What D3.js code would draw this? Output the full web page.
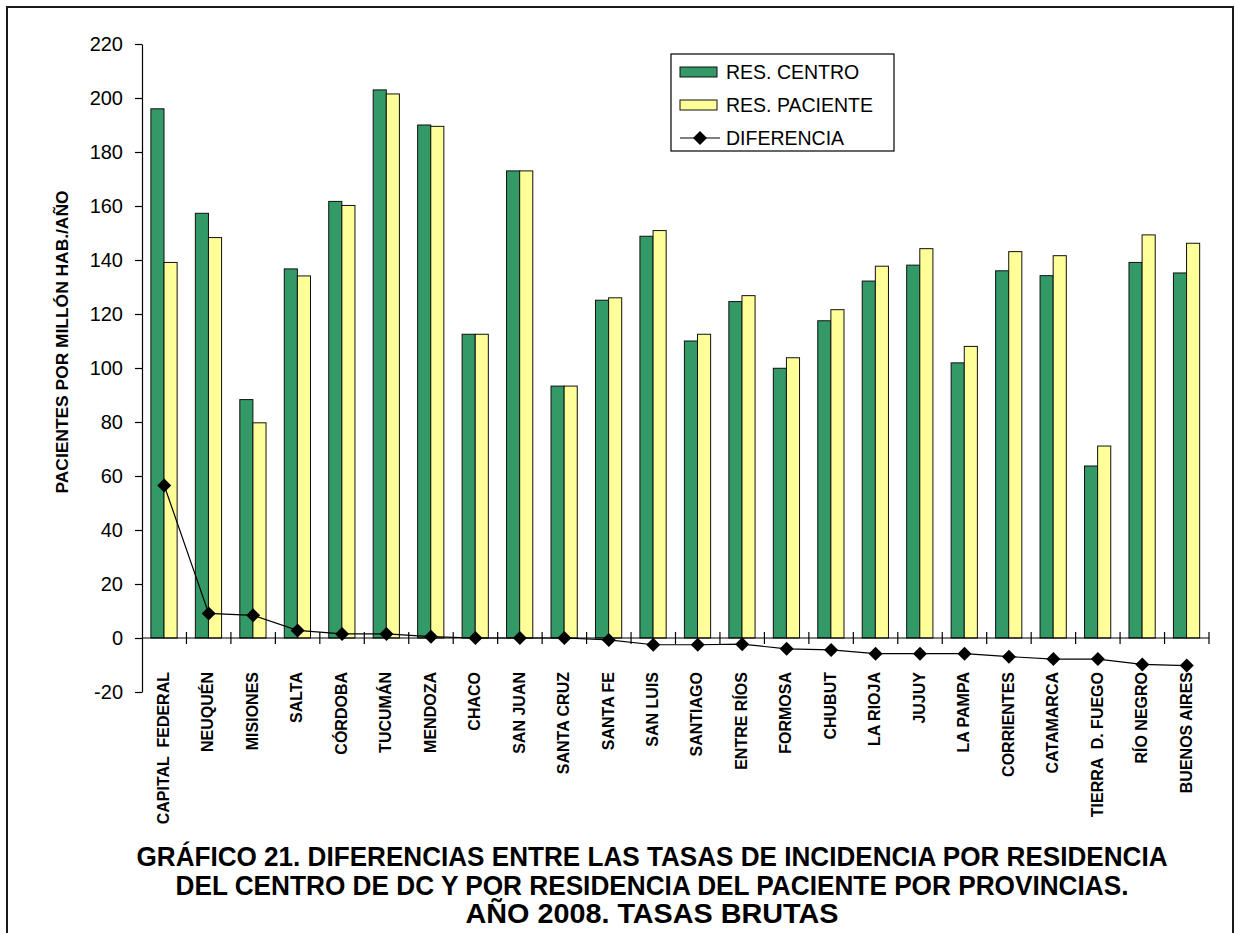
<!DOCTYPE html>
<html>
<head>
<meta charset="utf-8">
<script src="https://cdn.jsdelivr.net/npm/d3@7"></script>
<style>
  html, body { margin: 0; padding: 0; background: #fff; }
  svg { display: block; }
  text { font-family: Arial, "Liberation Sans", sans-serif; }
</style>
</head>
<body>
<svg id="chart" width="1235" height="933"></svg>
<script>
const categories = ["CAPITAL  FEDERAL","NEUQUÉN","MISIONES","SALTA","CÓRDOBA","TUCUMÁN","MENDOZA","CHACO","SAN JUAN","SANTA CRUZ","SANTA FE","SAN LUIS","SANTIAGO","ENTRE RÍOS","FORMOSA","CHUBUT","LA RIOJA","JUJUY","LA PAMPA","CORRIENTES","CATAMARCA","TIERRA  D. FUEGO","RÍO NEGRO","BUENOS AIRES"];
const resCentro = [196, 157.3, 88.3, 136.7, 161.7, 203, 190, 112.5, 173, 93.3, 125.1, 148.8, 110, 124.6, 99.9, 117.5, 132.2, 138.1, 101.9, 136, 134.2, 63.7, 139.1, 135.2];
const resPaciente = [139.1, 148.3, 79.7, 134.1, 160.2, 201.5, 189.5, 112.5, 173, 93.3, 126, 150.9, 112.5, 126.8, 103.8, 121.6, 137.7, 144.2, 108, 143.1, 141.6, 71.1, 149.3, 146.2];
const diferencia = [56.5, 9.1, 8.4, 2.8, 1.5, 1.5, 0.5, 0, 0, 0, -0.7, -2.5, -2.5, -2.3, -4, -4.4, -5.8, -5.8, -5.8, -6.9, -7.8, -7.8, -9.8, -10.2];
const yTicks = [-20, 0, 20, 40, 60, 80, 100, 120, 140, 160, 180, 200, 220];
const seriesNames = ["RES. CENTRO", "RES. PACIENTE", "DIFERENCIA"];
const yTitle = "PACIENTES POR MILLÓN HAB./AÑO";
const titleLines = ["GRÁFICO 21. DIFERENCIAS ENTRE LAS TASAS DE INCIDENCIA POR RESIDENCIA",
                    "DEL CENTRO DE DC Y POR RESIDENCIA DEL PACIENTE POR PROVINCIAS.",
                    "AÑO 2008. TASAS BRUTAS"];

const GREEN = "#339966", YELLOW = "#FFFF99";
const svg = d3.select("#chart");

// outer border
svg.append("rect").attr("x", 7).attr("y", 7).attr("width", 1226).attr("height", 940)
  .attr("fill", "none").attr("stroke", "#1a1a1a").attr("stroke-width", 2);

const x = d3.scaleBand().domain(categories).range([142, 1209]).paddingInner(0).paddingOuter(0);
const bw = x.bandwidth();
const x1 = d3.scaleBand().domain(["c", "p"]).range([bw * 0.2, bw * 0.79]);
const y = d3.scaleLinear().domain([-20, 220]).range([692, 44]);

const data = categories.map((c, i) => ({c, centro: resCentro[i], paciente: resPaciente[i], dif: diferencia[i]}));

// bars
const g = svg.append("g");
g.selectAll("rect.c").data(data).join("rect").attr("class", "c")
  .attr("x", d => x(d.c) + x1("c")).attr("width", x1.bandwidth())
  .attr("y", d => y(d.centro)).attr("height", d => y(0) - y(d.centro))
  .attr("fill", GREEN).attr("stroke", "#111").attr("stroke-width", 1);
g.selectAll("rect.p").data(data).join("rect").attr("class", "p")
  .attr("x", d => x(d.c) + x1("p")).attr("width", x1.bandwidth())
  .attr("y", d => y(d.paciente)).attr("height", d => y(0) - y(d.paciente))
  .attr("fill", YELLOW).attr("stroke", "#111").attr("stroke-width", 1);

// y axis
const yAxis = d3.axisLeft(y).tickValues(yTicks).tickSize(7).tickSizeOuter(0).tickPadding(12)
  .tickFormat(d => String(d));
const ya = svg.append("g").attr("transform", "translate(142,0)").call(yAxis);
ya.select(".domain").attr("stroke", "#000").attr("stroke-width", 1.2);
ya.selectAll(".tick line").attr("stroke", "#000").attr("stroke-width", 1.2);
ya.selectAll(".tick text").attr("font-size", 20).attr("fill", "#000")
  .attr("font-family", "Arial, 'Liberation Sans', sans-serif");

// x axis at zero, ticks crossing
const xa = svg.append("g");
xa.append("line").attr("x1", 142).attr("x2", 1209).attr("y1", y(0)).attr("y2", y(0))
  .attr("stroke", "#000").attr("stroke-width", 1.2);
const tickPos = categories.map(c => x(c) + bw);
xa.selectAll("line.t").data(tickPos).join("line").attr("class", "t")
  .attr("x1", d => d).attr("x2", d => d).attr("y1", y(0) - 6).attr("y2", y(0) + 6)
  .attr("stroke", "#000").attr("stroke-width", 1.2);

// x labels
svg.append("g").selectAll("text").data(categories).join("text")
  .attr("transform", d => `translate(${x(d) + bw / 2 - 1},672) rotate(-90)`)
  .attr("text-anchor", "end").attr("dy", "0.36em")
  .attr("font-size", 16).attr("font-weight", "bold").attr("fill", "#000")
  .style("white-space", "pre")
  .text(d => d);

// difference line
const line = d3.line().x(d => x(d.c) + bw / 2).y(d => y(d.dif));
svg.append("path").datum(data).attr("d", line).attr("fill", "none")
  .attr("stroke", "#000").attr("stroke-width", 1.2);
const diamond = "M0,-7L7,0L0,7L-7,0Z";
svg.append("g").selectAll("path").data(data).join("path")
  .attr("transform", d => `translate(${x(d.c) + bw / 2},${y(d.dif)})`)
  .attr("d", diamond).attr("fill", "#000");

// y title
svg.append("text").attr("transform", "translate(62,342) rotate(-90)")
  .attr("text-anchor", "middle").attr("dy", "0.35em")
  .attr("font-size", 16).attr("font-weight", "bold").attr("fill", "#000")
  .attr("textLength", 303).attr("lengthAdjust", "spacingAndGlyphs")
  .text(yTitle);

// legend
const lg = svg.append("g");
lg.append("rect").attr("x", 671).attr("y", 54).attr("width", 223).attr("height", 97)
  .attr("fill", "#fff").attr("stroke", "#000").attr("stroke-width", 1.2);
const rows = [72, 105, 138];
lg.append("rect").attr("x", 680).attr("y", rows[0] - 5).attr("width", 37).attr("height", 10)
  .attr("fill", GREEN).attr("stroke", "#111");
lg.append("rect").attr("x", 680).attr("y", rows[1] - 5).attr("width", 37).attr("height", 10)
  .attr("fill", YELLOW).attr("stroke", "#111");
lg.append("line").attr("x1", 680).attr("x2", 720).attr("y1", rows[2]).attr("y2", rows[2])
  .attr("stroke", "#000").attr("stroke-width", 1.2);
lg.append("path").attr("transform", `translate(700,${rows[2]})`).attr("d", diamond).attr("fill", "#000");
lg.selectAll("text").data(seriesNames).join("text")
  .attr("x", 726).attr("y", (d, i) => rows[i]).attr("dy", "0.36em")
  .attr("font-size", 19.5).attr("fill", "#000").text(d => d);

// title
const tl = [{t: titleLines[0], y: 866, w: 1031}, {t: titleLines[1], y: 895, w: 953}, {t: titleLines[2], y: 923, w: 373}];
svg.append("g").selectAll("text").data(tl).join("text")
  .attr("x", 652).attr("y", d => d.y).attr("text-anchor", "middle")
  .attr("font-family", "'Liberation Sans Narrow', 'Arial Narrow', Arial, sans-serif")
  .attr("font-size", 27).attr("font-weight", "bold").attr("fill", "#000")
  .attr("textLength", d => d.w).attr("lengthAdjust", "spacingAndGlyphs")
  .text(d => d.t);
</script>
</body>
</html>
